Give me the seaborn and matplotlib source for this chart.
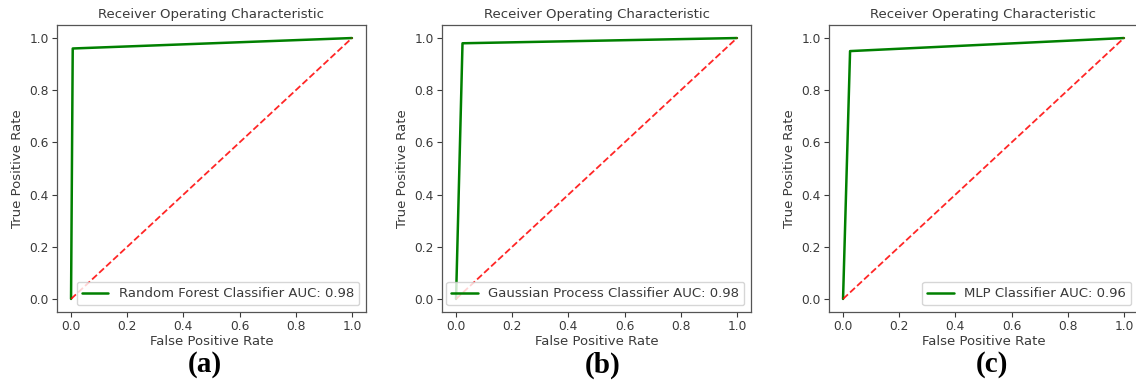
import matplotlib
matplotlib.use("Agg")
import matplotlib.pyplot as plt
import seaborn as sns
import pandas as pd

# Data
models = ["Random Forest Classifier", "Gaussian Process Classifier", "MLP Classifier"]
auc = [0.98, 0.98, 0.96]
fpr_rf = [0.0, 0.006, 1.0]
tpr_rf = [0.0, 0.96, 1.0]
fpr_gp = [0.0, 0.023, 1.0]
tpr_gp = [0.0, 0.98, 1.0]
fpr_mlp = [0.0, 0.025, 1.0]
tpr_mlp = [0.0, 0.95, 1.0]
chance = [0.0, 1.0]
panel_labels = ["(a)", "(b)", "(c)"]
ticks = [0.0, 0.2, 0.4, 0.6, 0.8, 1.0]

curves = [(fpr_rf, tpr_rf), (fpr_gp, tpr_gp), (fpr_mlp, tpr_mlp)]

sns.set_style("ticks")
plt.rcParams["font.family"] = ["DejaVu Sans"]
txt = "#3a3a3a"
plt.rcParams.update({
    "text.color": txt, "axes.labelcolor": txt,
    "xtick.color": txt, "ytick.color": txt,
    "axes.edgecolor": "#555555",
})

W, H = 1136, 389
fig = plt.figure(figsize=(W / 100, H / 100), dpi=100)

lefts = [57, 442, 829]
aw = 309
bottom = 77
ah = 287
label_x = [205, 603, 992]
fs = 9.5

for i, (fx, ty) in enumerate(curves):
    ax = fig.add_axes([lefts[i] / W, bottom / H, aw / W, ah / H])
    df = pd.DataFrame({"fpr": fx, "tpr": ty})
    sns.lineplot(data=df, x="fpr", y="tpr", ax=ax, color="green", linewidth=1.8,
                 label=f"{models[i]} AUC: {auc[i]:.2f}", estimator=None)
    dd = pd.DataFrame({"x": chance, "y": chance})
    sns.lineplot(data=dd, x="x", y="y", ax=ax, color="red", linestyle="--",
                 linewidth=1.3, estimator=None, alpha=0.85)
    ax.set_xlim(-0.05, 1.05)
    ax.set_ylim(-0.05, 1.05)
    ax.set_xticks(ticks)
    ax.set_yticks(ticks)
    ax.tick_params(labelsize=8.8, length=3.5, width=0.8, pad=2.5)
    for s in ax.spines.values():
        s.set_linewidth(0.9)
        s.set_visible(True)
    ax.set_title("Receiver Operating Characteristic", fontsize=fs, pad=5)
    ax.set_xlabel("False Positive Rate", fontsize=fs, labelpad=1)
    ax.set_ylabel("True Positive Rate", fontsize=fs, labelpad=4)
    handles, labels = ax.get_legend_handles_labels()
    ax.legend(handles[:1], labels[:1], loc="lower right", fontsize=fs,
              framealpha=0.8, handlelength=2.0)
    fig.text(label_x[i] / W, 1 - 365 / H, panel_labels[i], ha="center", va="center",
             fontsize=21, fontweight="bold", family="Liberation Serif", color="black")

fig.savefig("out.png", dpi=100)
